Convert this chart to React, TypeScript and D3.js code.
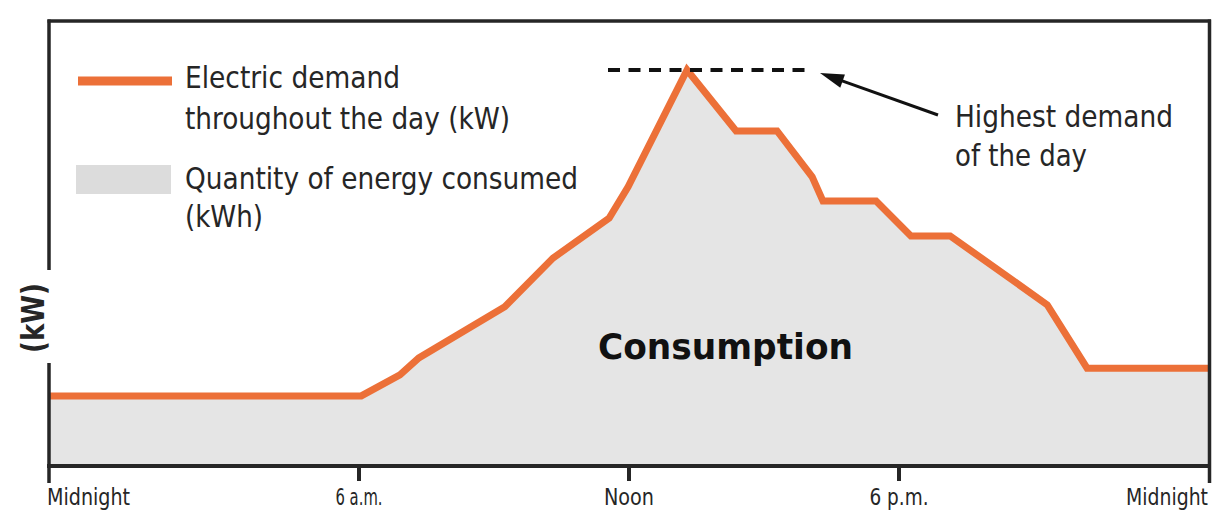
import React from "react";
import * as d3 from "d3";

// ---- data ----
const HOURS = [0, 6.05, 6.91, 7.33, 9.24, 10.31, 11.56, 11.98, 13.29, 14.38, 15.29, 16.07, 16.31, 17.49, 18.23, 18.99, 20.87, 21.64, 24];
const DEMAND = [17.7, 17.7, 23, 27.3, 40.2, 52.5, 62.6, 70.5, 100, 84.6, 84.6, 73, 66.9, 66.9, 58.1, 58.1, 40.7, 24.7, 24.7];
const TICK_HOURS = [0, 6, 12, 18, 24];
const TICK_LABELS = ["Midnight", "6 a.m.", "Noon", "6 p.m.", "Midnight"];
const LEGEND_LINE = ["Electric demand", "throughout the day (kW)"];
const LEGEND_AREA = ["Quantity of energy consumed", "(kWh)"];
const NOTE = ["Highest demand", "of the day"];
const AREA_LABEL = "Consumption";
const Y_LABEL = "(kW)";

const W = 1214;
const H = 513;
const ORANGE = "#ec7038";
const FILL = "#e5e5e5";
const INK = "#262626";
const FONT = "'Liberation Sans Narrow', 'Arial Narrow', 'DejaVu Sans Condensed', 'Liberation Sans', sans-serif";

export default function App() {
  const x = d3.scaleLinear().domain(TICK_HOURS).range([49, 359, 629, 899, 1209]);
  const y = d3.scaleLinear().domain([0, 100]).range([466, 70]);
  const pts = HOURS.map((h, i) => [h, DEMAND[i]] as [number, number]);
  const line = d3.line<[number, number]>().x((d) => x(d[0])).y((d) => y(d[1]));
  const area = d3
    .area<[number, number]>()
    .x((d) => x(d[0]))
    .y0(y(0))
    .y1((d) => y(d[1]));

  const maxV = d3.max(DEMAND) as number;
  const peakY = y(maxV);

  // arrow
  const tail = [938, 115];
  const tip = [820, peakY + 3];
  const dx = tip[0] - tail[0];
  const dy = tip[1] - tail[1];
  const len = Math.hypot(dx, dy);
  const ux = dx / len;
  const uy = dy / len;
  const hl = 24;
  const hw = 7;
  const bx = tip[0] - ux * hl;
  const by = tip[1] - uy * hl;
  const head = `M${tip[0]},${tip[1]} L${bx - uy * hw},${by + ux * hw} L${bx + uy * hw},${by - ux * hw} Z`;

  const textProps = { fontFamily: FONT, fill: INK, lengthAdjust: "spacingAndGlyphs" as const };

  return (
    <svg
      width={W}
      height={H}
      style={{ position: "absolute", left: 0, top: 0, background: "#fff" }}
    >
      {/* area and line */}
      <path d={area(pts) as string} fill={FILL} />
      <path d={line(pts) as string} fill="none" stroke={ORANGE} strokeWidth={7} strokeLinejoin="miter" />

      {/* frame */}
      <line x1={47.5} x2={1211} y1={21} y2={21} stroke={INK} strokeWidth={3.5} />
      <line x1={1209.5} x2={1209.5} y1={19.5} y2={483} stroke={INK} strokeWidth={3.5} />
      <line x1={49} x2={49} y1={19.5} y2={270} stroke={INK} strokeWidth={3.5} />
      <line x1={49} x2={49} y1={363} y2={483} stroke={INK} strokeWidth={3.5} />
      <line x1={47} x2={1211} y1={y(0)} y2={y(0)} stroke={INK} strokeWidth={4} />
      {TICK_HOURS.slice(1, -1).map((t) => (
        <line key={t} x1={x(t)} x2={x(t)} y1={y(0)} y2={481} stroke={INK} strokeWidth={4} />
      ))}
      {TICK_HOURS.map((t, i) => {
        const anchor = i === 0 ? "start" : i === TICK_HOURS.length - 1 ? "end" : "middle";
        const lens = [83, 47, 50, 59, 82];
        return (
          <text
            key={i}
            x={i === 0 ? 47 : i === TICK_HOURS.length - 1 ? 1208 : x(t)}
            y={505}
            fontSize={23}
            textAnchor={anchor}
            textLength={lens[i]}
            {...textProps}
          >
            {TICK_LABELS[i]}
          </text>
        );
      })}

      {/* y label */}
      <text
        transform="translate(44,318) rotate(-90)"
        fontSize={32}
        fontWeight="bold"
        textAnchor="middle"
        textLength={70}
        {...textProps}
      >
        {Y_LABEL}
      </text>

      {/* legend */}
      <line x1={78} x2={172} y1={81} y2={81} stroke={ORANGE} strokeWidth={9} />
      <rect x={76} y={165} width={95} height={29} fill="#dcdcdc" />
      <text x={185} y={88} fontSize={31} textLength={215} {...textProps}>{LEGEND_LINE[0]}</text>
      <text x={185} y={129} fontSize={31} textLength={325} {...textProps}>{LEGEND_LINE[1]}</text>
      <text x={185} y={189} fontSize={31} textLength={393} {...textProps}>{LEGEND_AREA[0]}</text>
      <text x={185} y={227} fontSize={31} textLength={78} {...textProps}>{LEGEND_AREA[1]}</text>

      {/* peak annotation */}
      <line
        x1={608}
        x2={813}
        y1={peakY}
        y2={peakY}
        stroke="#111"
        strokeWidth={4}
        strokeDasharray="12 8.5"
      />
      <line x1={tail[0]} y1={tail[1]} x2={bx + ux * 2} y2={by + uy * 2} stroke="#111" strokeWidth={3} />
      <path d={head} fill="#111" />
      <text x={955} y={127} fontSize={31} textLength={218} {...textProps}>{NOTE[0]}</text>
      <text x={955} y={166} fontSize={31} textLength={132} {...textProps}>{NOTE[1]}</text>

      {/* area label */}
      <text x={598} y={359} fontSize={36} fontWeight="bold" textLength={255} {...textProps} fill="#111">
        {AREA_LABEL}
      </text>
    </svg>
  );
}
